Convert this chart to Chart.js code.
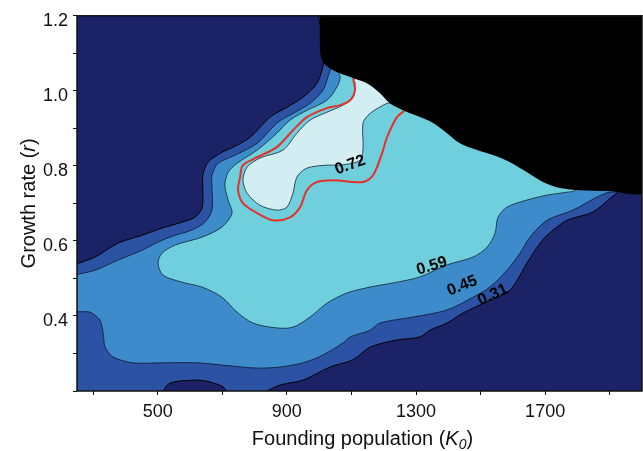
<!DOCTYPE html>
<html>
<head>
<meta charset="utf-8">
<script src="https://cdn.jsdelivr.net/npm/chart.js@4.4.1/dist/chart.umd.min.js"></script>
<style>
  html, body { margin: 0; padding: 0; background: #fff; }
</style>
</head>
<body>
<canvas id="chart" width="643" height="451"></canvas>
<script>
// Contour map: growth rate (r) vs founding population (K0)

const xTicks = [300, 500, 700, 900, 1100, 1300, 1500, 1700, 1900];
const xTickLabels = ['', '500', '', '900', '', '1300', '', '1700', ''];
const yTicks = [0.2, 0.3, 0.4, 0.5, 0.6, 0.7, 0.8, 0.9, 1.0, 1.1, 1.2];
const yTickLabels = ['', '', '0.4', '', '0.6', '', '0.8', '', '1.0', '', '1.2'];

// region >= 0.31
const level031 = [
  [240, 0.536], [306, 0.557], [377, 0.594], [451, 0.615], [513, 0.634], [575, 0.650],
  [615, 0.663], [637, 0.687], [640, 0.727], [640, 0.775], [656, 0.810], [699, 0.836],
  [739, 0.852], [786, 0.876], [848, 0.930], [900, 0.956], [950, 0.983], [993, 1.020],
  [1014, 1.074], [1015, 1.13], [1010, 1.21], [2010, 1.21], [2010, 0.735], [1938, 0.735],
  [1848, 0.677], [1768, 0.655], [1706, 0.615], [1675, 0.583], [1644, 0.541], [1591, 0.469],
  [1529, 0.442], [1446, 0.408], [1396, 0.381], [1343, 0.362], [1312, 0.344], [1241, 0.336],
  [1158, 0.317], [1105, 0.283], [1034, 0.264], [950, 0.229], [879, 0.216], [808, 0.19],
  [724, 0.19], [702, 0.211], [662, 0.224], [622, 0.229], [538, 0.221], [501, 0.19], [240, 0.19]
];

// region >= 0.45
const level045 = [
  [240, 0.509], [306, 0.522], [377, 0.549], [451, 0.575], [501, 0.597], [554, 0.615],
  [606, 0.629], [646, 0.650], [668, 0.682], [668, 0.743], [668, 0.775], [687, 0.807],
  [733, 0.826], [808, 0.860], [869, 0.914], [919, 0.940], [972, 0.967], [1012, 1.002],
  [1034, 1.055], [1080, 1.161], [2010, 1.161], [2010, 0.733], [1901, 0.730], [1861, 0.717],
  [1786, 0.682], [1706, 0.655], [1653, 0.610], [1622, 0.567], [1582, 0.522], [1529, 0.477],
  [1477, 0.450], [1396, 0.416], [1291, 0.397], [1188, 0.381], [1158, 0.362], [1096, 0.344],
  [1074, 0.328], [1012, 0.296], [950, 0.275], [879, 0.264], [808, 0.261], [724, 0.267],
  [622, 0.275], [516, 0.275], [423, 0.275], [361, 0.291], [337, 0.317], [331, 0.354],
  [321, 0.389], [290, 0.410], [240, 0.416]
];

// region >= 0.59
const level059 = [
  [1055, 1.055], [1065, 1.036], [1055, 1.010], [1024, 0.975], [962, 0.948], [910, 0.922],
  [869, 0.887], [808, 0.842], [746, 0.807], [718, 0.783], [708, 0.749], [718, 0.709],
  [730, 0.674], [699, 0.637], [637, 0.610], [554, 0.589], [513, 0.567], [501, 0.541],
  [516, 0.509], [575, 0.490], [637, 0.477], [699, 0.450], [746, 0.410], [795, 0.381],
  [869, 0.368], [919, 0.370], [972, 0.397], [1024, 0.434], [1086, 0.461], [1158, 0.477],
  [1229, 0.488], [1312, 0.504], [1396, 0.536], [1477, 0.557], [1520, 0.583], [1545, 0.621],
  [1554, 0.663], [1582, 0.690], [1644, 0.709], [1706, 0.722], [1768, 0.730], [1793, 0.735],
  [1870, 0.842], [1188, 1.135]
];

// region >= 0.72
const level072 = [
  [1105, 1.028], [1111, 1.023], [1105, 0.983], [1074, 0.962], [1024, 0.943], [972, 0.922],
  [931, 0.887], [888, 0.842], [817, 0.821], [777, 0.797], [764, 0.762], [777, 0.727],
  [817, 0.695], [869, 0.682], [900, 0.690], [919, 0.727], [931, 0.770], [962, 0.794],
  [1024, 0.802], [1065, 0.802], [1127, 0.815], [1136, 0.850], [1136, 0.914], [1158, 0.940],
  [1210, 0.967], [1219, 0.967], [1188, 1.081]
];

// red threshold contour
const redContour = [
  [1105, 1.034], [1111, 1.002], [1096, 0.975], [1065, 0.962], [1024, 0.954], [962, 0.930],
  [919, 0.895], [869, 0.850], [808, 0.823], [764, 0.802], [755, 0.770], [749, 0.735],
  [764, 0.701], [808, 0.674], [857, 0.655], [910, 0.663], [941, 0.690], [962, 0.735],
  [993, 0.757], [1043, 0.762], [1136, 0.757], [1167, 0.775], [1195, 0.834], [1210, 0.876],
  [1241, 0.930], [1266, 0.948]
];

// black (no data) zone, top right
const blackZone = [
  [1003, 1.21], [1003, 1.108], [1012, 1.076], [1043, 1.055], [1105, 1.034], [1148, 1.020],
  [1188, 0.994], [1219, 0.967], [1260, 0.948], [1312, 0.930], [1353, 0.914], [1396, 0.887],
  [1436, 0.860], [1489, 0.842], [1538, 0.829], [1591, 0.810], [1644, 0.783], [1693, 0.757],
  [1746, 0.741], [1808, 0.735], [1892, 0.733], [2010, 0.735], [2010, 1.21]
];

const contourLabels = ['0.72', '0.59', '0.45', '0.31'];
const contourLabelX = [1096, 1349, 1443, 1538];
const contourLabelY = [0.802, 0.533, 0.480, 0.456];

const NAVY = '#1b2266';
const FONT = '"Liberation Sans", Arial, Helvetica, sans-serif';

const closed = pts => pts.concat([pts[0]]);

const band = (pts, color, edge, order) => ({
  data: closed(pts),
  showLine: true,
  fill: 'shape',
  backgroundColor: color,
  borderColor: edge,
  borderWidth: edge ? 1 : 0,
  pointRadius: 0,
  tension: 0.3,
  order
});

const plotBackground = {
  id: 'plotBackground',
  beforeDatasetsDraw(chart) {
    const { ctx, chartArea: a } = chart;
    ctx.save();
    ctx.fillStyle = NAVY;
    ctx.fillRect(a.left, a.top, a.width, a.height);
    ctx.restore();
  }
};

const labelAngles = [-20, -17, -22, -25];

const contourText = {
  id: 'contourText',
  afterDatasetsDraw(chart) {
    const { ctx, scales: { x, y } } = chart;
    ctx.save();
    ctx.font = 'bold 16px ' + FONT;
    ctx.fillStyle = '#000';
    ctx.textAlign = 'center';
    ctx.textBaseline = 'middle';
    contourLabels.forEach((t, i) => {
      ctx.save();
      ctx.translate(x.getPixelForValue(contourLabelX[i]), y.getPixelForValue(contourLabelY[i]));
      ctx.rotate(labelAngles[i] * Math.PI / 180);
      ctx.fillText(t, 0, 0);
      ctx.restore();
    });
    ctx.restore();
  }
};

function drawRich(ctx, parts, cx, cy) {
  const widths = parts.map(p => { ctx.font = p.font; return ctx.measureText(p.text).width; });
  let px = cx - widths.reduce((s, w) => s + w, 0) / 2;
  parts.forEach((p, i) => {
    ctx.font = p.font;
    ctx.fillText(p.text, px, cy + (p.dy || 0));
    px += widths[i];
  });
}

const frameAndTitles = {
  id: 'frameAndTitles',
  afterDraw(chart) {
    const { ctx, chartArea: a } = chart;
    ctx.save();
    ctx.strokeStyle = '#111';
    ctx.lineWidth = 1.5;
    ctx.strokeRect(a.left, a.top, a.width, a.height);

    ctx.fillStyle = '#111';
    ctx.textAlign = 'left';
    ctx.textBaseline = 'alphabetic';
    const reg = '20px ' + FONT, ita = 'italic 20px ' + FONT, sub = 'italic 14px ' + FONT;
    drawRich(ctx, [
      { text: 'Founding population (', font: reg },
      { text: 'K', font: ita },
      { text: '0', font: sub, dy: 4 },
      { text: ')', font: reg }
    ], (a.left + a.right) / 2 + 3, 445);

    ctx.translate(35, (a.top + a.bottom) / 2);
    ctx.rotate(-Math.PI / 2);
    drawRich(ctx, [
      { text: 'Growth rate (', font: reg },
      { text: 'r', font: ita },
      { text: ')', font: reg }
    ], 0, 0);
    ctx.restore();
  }
};

new Chart(document.getElementById('chart'), {
  type: 'scatter',
  data: {
    datasets: [
      band(blackZone, '#000', null, 0),
      {
        data: redContour, showLine: true, fill: false, borderColor: '#e8302a',
        borderWidth: 2, pointRadius: 0, tension: 0.3, order: 1
      },
      band(level072, '#d3eef3', '#2a4a55', 2),
      band(level059, '#6fcfdc', '#1e3f52', 3),
      band(level045, '#3d8bcb', '#14284a', 4),
      band(level031, '#2b52a3', '#000', 5)
    ]
  },
  options: {
    responsive: false,
    animation: false,
    events: [],
    layout: { padding: { top: 15, right: 1, left: 0, bottom: 0 } },
    plugins: { legend: { display: false }, tooltip: { enabled: false } },
    scales: {
      x: {
        type: 'linear', min: 250, max: 2000,
        afterBuildTicks: s => { s.ticks = xTicks.map(v => ({ value: v })); },
        afterFit: s => { s.height = 60; },
        ticks: {
          callback: (v, i) => xTickLabels[i], autoSkip: false, maxRotation: 0,
          font: { family: FONT, size: 18 }, color: '#111', padding: 6
        },
        grid: { drawOnChartArea: false, drawTicks: true, tickLength: 4, color: '#111' },
        border: { display: false }
      },
      y: {
        type: 'linear', min: 0.2, max: 1.2,
        afterBuildTicks: s => { s.ticks = yTicks.map(v => ({ value: v })); },
        afterFit: s => { s.width = 77; },
        ticks: {
          callback: (v, i) => yTickLabels[i], autoSkip: false,
          font: { family: FONT, size: 18 }, color: '#111', padding: 5, labelOffset: 5
        },
        grid: { drawOnChartArea: false, drawTicks: true, tickLength: 4, color: '#111' },
        border: { display: false }
      }
    }
  },
  plugins: [plotBackground, contourText, frameAndTitles]
});
</script>
</body>
</html>
